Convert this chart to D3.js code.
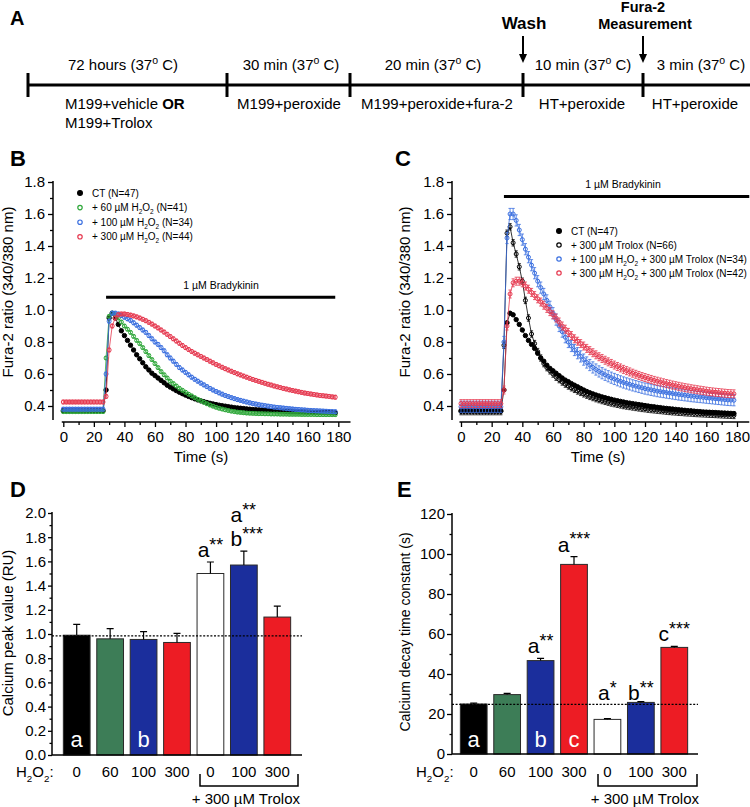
<!DOCTYPE html>
<html><head><meta charset="utf-8">
<script src="https://cdn.jsdelivr.net/npm/d3@7"></script>
<style>body{margin:0;background:#fff}svg{display:block}</style>
</head><body><svg id="chart" width="750" height="807"></svg>
<script>
// ---------------- DATA ----------------
const stepDurations = ["72 hours", "30 min", "20 min", "10 min", "3 min"];
const stepMedia = [["M199+vehicle ", {t:"OR", bold:true}], ["M199+peroxide"], ["M199+peroxide+fura-2"], ["HT+peroxide"], ["HT+peroxide"]];
const stepMedia2 = ["M199+Trolox", "", "", "", ""];
const events = [["Wash"], ["Fura-2", "Measurement"]];

const time = [0,2,4,6,8,10,12,14,16,18,20,22,24,26,28,30,32,34,36,38,40,42,44,46,48,50,52,54,56,58,60,62,64,66,68,70,72,74,76,78,80,82,84,86,88,90,92,94,96,98,100,102,104,106,108,110,112,114,116,118,120,122,124,126,128,130,132,134,136,138,140,142,144,146,148,150,152,154,156,158,160,162,164,166,168,170,172,174,176,178];
const timeTicks = [0,20,40,60,80,100,120,140,160,180];
const ratioTicks = [0.4,0.6,0.8,1.0,1.2,1.4,1.6,1.8];

// Panel B series
const ctB = [0.37,0.37,0.37,0.37,0.37,0.37,0.37,0.37,0.37,0.37,0.37,0.37,0.37,0.37,0.50,0.95,0.98,0.95,0.91,0.87,0.84,0.81,0.78,0.75,0.72,0.695,0.67,0.645,0.625,0.605,0.59,0.575,0.56,0.545,0.53,0.518,0.507,0.496,0.486,0.477,0.468,0.46,0.452,0.445,0.438,0.432,0.427,0.422,0.417,0.413,0.409,0.405,0.402,0.399,0.396,0.393,0.39,0.388,0.386,0.384,0.382,0.38,0.378,0.377,0.376,0.375,0.374,0.373,0.372,0.371,0.37,0.369,0.368,0.367,0.366,0.366,0.365,0.364,0.364,0.363,0.362,0.362,0.361,0.361,0.36,0.36,0.359,0.359,0.358,0.358];
const h60B = [0.365,0.365,0.365,0.365,0.365,0.365,0.365,0.365,0.365,0.365,0.365,0.365,0.365,0.365,0.70,0.96,0.98,0.97,0.95,0.925,0.90,0.88,0.86,0.835,0.81,0.79,0.765,0.74,0.715,0.69,0.665,0.64,0.615,0.595,0.575,0.555,0.54,0.525,0.51,0.498,0.486,0.474,0.463,0.452,0.442,0.432,0.423,0.414,0.406,0.399,0.392,0.386,0.381,0.376,0.372,0.368,0.365,0.362,0.36,0.358,0.356,0.355,0.354,0.353,0.352,0.352,0.351,0.351,0.35,0.35,0.35,0.349,0.349,0.349,0.348,0.348,0.348,0.348,0.347,0.347,0.347,0.347,0.347,0.346,0.346,0.346,0.346,0.346,0.346,0.346];
const h100B = [0.38,0.38,0.38,0.38,0.38,0.38,0.38,0.38,0.38,0.38,0.38,0.38,0.38,0.38,0.60,0.93,0.98,0.98,0.975,0.965,0.955,0.945,0.935,0.92,0.905,0.89,0.875,0.86,0.84,0.82,0.80,0.785,0.765,0.745,0.72,0.70,0.68,0.66,0.64,0.625,0.61,0.595,0.58,0.567,0.555,0.543,0.532,0.521,0.51,0.5,0.491,0.482,0.474,0.466,0.459,0.452,0.446,0.44,0.435,0.43,0.425,0.42,0.416,0.412,0.408,0.405,0.402,0.399,0.396,0.393,0.391,0.389,0.387,0.385,0.383,0.381,0.379,0.378,0.376,0.375,0.373,0.372,0.371,0.37,0.369,0.368,0.367,0.366,0.365,0.364];
const h300B = [0.425,0.425,0.425,0.425,0.425,0.425,0.425,0.425,0.425,0.425,0.425,0.425,0.425,0.425,0.46,0.75,0.9,0.95,0.97,0.975,0.975,0.972,0.968,0.963,0.957,0.95,0.942,0.933,0.923,0.912,0.9,0.888,0.875,0.862,0.848,0.834,0.82,0.806,0.792,0.778,0.765,0.753,0.741,0.73,0.72,0.71,0.7,0.69,0.68,0.67,0.66,0.651,0.642,0.633,0.625,0.617,0.609,0.601,0.594,0.587,0.58,0.573,0.566,0.56,0.554,0.548,0.542,0.536,0.531,0.525,0.52,0.515,0.51,0.506,0.501,0.497,0.493,0.489,0.485,0.481,0.478,0.475,0.472,0.469,0.466,0.464,0.462,0.46,0.457,0.455];
const semB = [0.006, 0.01, 0.012, 0.012];

// Panel C series
const ctC = [0.37,0.37,0.37,0.37,0.37,0.37,0.37,0.37,0.37,0.37,0.37,0.37,0.37,0.37,0.5,0.92,0.98,0.97,0.94,0.91,0.875,0.84,0.81,0.785,0.76,0.73,0.70,0.68,0.655,0.635,0.62,0.605,0.59,0.575,0.562,0.552,0.54,0.53,0.52,0.51,0.5,0.491,0.483,0.476,0.469,0.463,0.457,0.452,0.447,0.442,0.437,0.433,0.429,0.425,0.421,0.418,0.415,0.412,0.409,0.406,0.403,0.4,0.397,0.395,0.392,0.39,0.387,0.385,0.383,0.381,0.379,0.377,0.375,0.373,0.371,0.37,0.368,0.366,0.365,0.363,0.362,0.361,0.36,0.359,0.358,0.357,0.356,0.355,0.354,0.353];
const troloxC = [0.365,0.365,0.365,0.365,0.365,0.365,0.365,0.365,0.365,0.365,0.365,0.365,0.365,0.365,0.78,1.48,1.52,1.42,1.35,1.27,1.18,1.06,0.95,0.85,0.79,0.74,0.7,0.665,0.64,0.62,0.6,0.58,0.565,0.55,0.537,0.525,0.514,0.504,0.494,0.485,0.476,0.468,0.46,0.453,0.446,0.44,0.434,0.429,0.424,0.419,0.415,0.411,0.407,0.403,0.4,0.397,0.394,0.391,0.388,0.385,0.383,0.38,0.378,0.376,0.374,0.372,0.37,0.368,0.366,0.364,0.363,0.361,0.36,0.358,0.357,0.356,0.354,0.353,0.352,0.351,0.35,0.349,0.348,0.347,0.346,0.345,0.344,0.343,0.342,0.341];
const h100TC = [0.395,0.395,0.395,0.395,0.395,0.395,0.395,0.395,0.395,0.395,0.395,0.395,0.395,0.395,0.8,1.45,1.6,1.6,1.56,1.5,1.44,1.38,1.33,1.28,1.23,1.18,1.14,1.1,1.06,1.02,0.98,0.94,0.9,0.865,0.83,0.8,0.775,0.75,0.73,0.71,0.69,0.672,0.656,0.641,0.628,0.616,0.605,0.595,0.586,0.577,0.569,0.561,0.554,0.547,0.541,0.535,0.529,0.524,0.519,0.514,0.509,0.505,0.501,0.497,0.493,0.49,0.487,0.484,0.481,0.478,0.475,0.472,0.47,0.467,0.465,0.462,0.46,0.458,0.456,0.454,0.452,0.45,0.448,0.446,0.444,0.442,0.44,0.438,0.437,0.436];
const h300TC = [0.415,0.415,0.415,0.415,0.415,0.415,0.415,0.415,0.415,0.415,0.415,0.415,0.415,0.415,0.5,0.9,1.1,1.17,1.18,1.18,1.17,1.15,1.13,1.11,1.09,1.07,1.05,1.03,1.01,0.99,0.97,0.95,0.925,0.9,0.88,0.86,0.84,0.82,0.805,0.79,0.775,0.76,0.746,0.733,0.72,0.708,0.697,0.686,0.676,0.666,0.656,0.647,0.638,0.629,0.621,0.613,0.605,0.598,0.591,0.584,0.578,0.572,0.566,0.56,0.555,0.55,0.545,0.54,0.536,0.531,0.527,0.523,0.519,0.515,0.512,0.508,0.505,0.502,0.499,0.496,0.493,0.49,0.488,0.486,0.484,0.482,0.48,0.478,0.477,0.476];
const semC = [0.006, 0.02, 0.035, 0.025];

// Bar panels
const h2o2Labels = ["0","60","100","300","0","100","300"];
const peakValues = [0.99, 0.96, 0.955, 0.93, 1.50, 1.57, 1.14];
const peakErrors = [0.09, 0.085, 0.065, 0.075, 0.095, 0.115, 0.09];
const peakRef = 0.985;
const peakTicks = [0,0.2,0.4,0.6,0.8,1.0,1.2,1.4,1.6,1.8,2.0];
const decayValues = [25.0, 29.7, 46.7, 94.8, 17.3, 25.8, 53.3];
const decayErrors = [0.4, 0.6, 1.1, 3.9, 0.4, 0.4, 0.5];
const decayRef = 24.8;
const decayTicks = [0,20,40,60,80,100,120];
const barFills = ["#000000","#3d7d57","#1b2e9c","#ed1c24","#ffffff","#1b2e9c","#ed1c24"];
const peakInside = ["a","","b","","","",""];
const decayInside = ["a","","b","c","","",""];
const peakMarks = [null,null,null,null,[["a","**"]],[["a","**"],["b","***"]],null];
const decayMarks = [null,null,[["a","**"]],[["a","***"]],[["a","*"]],[["b","**"]],[["c","***"]]];

// ---------------- DRAW ----------------
const F = '"Liberation Sans", Arial, Helvetica, sans-serif';
const svg = d3.select("#chart");

function rich(parent, x, y, parts, o = {}) {
  const fs = o.size || 15;
  const t = parent.append("text").attr("x", x).attr("y", y)
    .attr("font-family", F).attr("font-size", fs)
    .attr("fill", o.fill || "#000").attr("text-anchor", o.anchor || "start");
  if (o.weight) t.attr("font-weight", o.weight);
  if (o.rotate) t.attr("transform", `rotate(-90 ${x} ${y})`);
  let cur = 0;
  parts.forEach(p => {
    if (typeof p === "string") p = {t: p};
    let target = 0, size = null;
    if (p.sub) { target = fs * 0.3; size = fs * 0.65; }
    if (p.sup) { target = -fs * (o.supShift || 0.38); size = fs * (o.supSize || 0.7); }
    const ts = t.append("tspan").text(p.t).attr("dy", target - cur);
    cur = target;
    if (size) ts.attr("font-size", size);
    if (p.bold) ts.attr("font-weight", "bold");
  });
  return t;
}
function panelLabel(x, y, s, size) {
  svg.append("text").attr("x", x).attr("y", y).attr("font-family", F)
    .attr("font-size", size || 22).attr("font-weight", "bold").text(s);
}
function styleAxis(g, fs) {
  g.attr("font-family", F).attr("font-size", fs);
  g.selectAll(".domain").remove();
  g.selectAll("line").attr("stroke", "#000").attr("stroke-width", 1.3);
  g.selectAll("text").attr("fill", "#000");
}
function line(x1, y1, x2, y2, w, dash) {
  const l = svg.append("line").attr("x1", x1).attr("y1", y1).attr("x2", x2).attr("y2", y2)
    .attr("stroke", "#000").attr("stroke-width", w || 1.5);
  if (dash) l.attr("stroke-dasharray", dash);
  return l;
}

// ---- Panel A ----
panelLabel(10, 25, "A", 20);
const tl = {y: 85, bounds: [28, 227, 350, 523, 643], end: 750,
  upper: [123, 291, 433, 583, 701], lower: [65, 289, 437, 582, 695]};
line(tl.bounds[0], tl.y, tl.end, tl.y, 3);
tl.bounds.forEach(b => line(b, tl.y - 12, b, tl.y + 12, 3));
stepDurations.forEach((d, i) => {
  rich(svg, tl.upper[i], 70, [d + " (37", {t: "o", sup: true}, " C)"], {anchor: "middle"});
  rich(svg, tl.lower[i], 109, stepMedia[i], {anchor: i === 0 ? "start" : "middle"});
  if (stepMedia2[i]) rich(svg, tl.lower[i], 128, [stepMedia2[i]], {anchor: "start"});
});
[[523, events[0]], [643, events[1]]].forEach(([x, lab]) => {
  if (lab.length === 1) {
    svg.append("text").attr("x", x + 1).attr("y", 29).attr("text-anchor", "middle")
      .attr("font-family", F).attr("font-size", 17).attr("font-weight", "bold").text(lab[0]);
  } else {
    svg.append("text").attr("x", x).attr("y", 12).attr("text-anchor", "middle")
      .attr("font-family", F).attr("font-size", 14.5).attr("font-weight", "bold").text(lab[0]);
    svg.append("text").attr("x", x + 2).attr("y", 29).attr("text-anchor", "middle")
      .attr("font-family", F).attr("font-size", 14.5).attr("font-weight", "bold").text(lab[1]);
  }
  line(x, 36, x, 56, 2);
  svg.append("path").attr("d", `M${x - 4},54 L${x + 4},54 L${x},63 Z`).attr("fill", "#000");
});

// ---- Trace panels ----
const yT = d3.scaleLinear().domain([0.3, 1.8]).range([422, 182]);
function tracePanel(cfg) {
  const x = cfg.x;
  const g = svg.append("g");
  line(cfg.axisX, yT(1.8) - 1, cfg.axisX, 420, 1.5);
  line(x(-1), 422, x(188), 422, 1.5);
  const ya = g.append("g").attr("transform", `translate(${cfg.axisX},0)`)
    .call(d3.axisLeft(yT).tickValues(ratioTicks).tickSize(5).tickPadding(3).tickFormat(d3.format(".1f")));
  styleAxis(ya, 15);
  const yam = g.append("g").attr("transform", `translate(${cfg.axisX},0)`)
    .call(d3.axisLeft(yT).tickValues(d3.range(0.5, 1.8, 0.2)).tickSize(3).tickFormat(""));
  styleAxis(yam, 15);
  const xa = g.append("g").attr("transform", "translate(0,422)")
    .call(d3.axisBottom(x).tickValues(timeTicks).tickSize(5).tickPadding(4));
  styleAxis(xa, 15);
  const xam = g.append("g").attr("transform", "translate(0,422)")
    .call(d3.axisBottom(x).tickValues(d3.range(10, 180, 20)).tickSize(3).tickFormat(""));
  styleAxis(xam, 15);
  rich(svg, cfg.ylabX, 292, ["Fura-2 ratio (340/380 nm)"], {anchor: "middle", rotate: true});
  rich(svg, cfg.tlabX, 462, ["Time (s)"], {anchor: "middle"});
  line(x(28), yT(cfg.brady.v), x(cfg.brady.end), yT(cfg.brady.v), 3);
  rich(svg, cfg.brady.lx, yT(cfg.brady.v) - 8, ["1 µM Bradykinin"], {anchor: "middle", size: 10.5});
  cfg.series.forEach((s, si) => {
    const pts = time.map((t, i) => [t, s.values[i]]).filter(d => d[1] != null);
    const sg = g.append("g");
    sg.append("path").attr("d", d3.line().x(d => x(d[0])).y(d => yT(d[1]))(pts))
      .attr("fill", "none").attr("stroke", s.color).attr("stroke-width", 0.8);
    const e = cfg.sem[si];
    pts.forEach(d => {
      const cx = x(d[0]), y1 = yT(d[1] - e), y2 = yT(d[1] + e);
      sg.append("path").attr("d", `M${cx},${y1}V${y2}M${cx - 1.6},${y1}h3.2M${cx - 1.6},${y2}h3.2`)
        .attr("stroke", s.color).attr("stroke-width", 0.8).attr("fill", "none");
    });
    sg.selectAll("circle").data(pts).join("circle")
      .attr("cx", d => x(d[0])).attr("cy", d => yT(d[1])).attr("r", s.filled ? 2.2 : 2)
      .attr("fill", s.filled ? s.color : "none").attr("stroke", s.color).attr("stroke-width", 1);
  });
  cfg.series.forEach((s, i) => {
    const ly = cfg.legend.y + i * cfg.legend.dy;
    svg.append("circle").attr("cx", cfg.legend.x).attr("cy", ly).attr("r", s.filled ? 2.4 : 2.2)
      .attr("fill", s.filled ? s.color : "none").attr("stroke", s.color).attr("stroke-width", 1.2);
    rich(svg, cfg.legend.x + 12, ly + 3.6, s.label, {size: 10});
  });
}
const H2O2 = ["H", {t: "2", sub: true}, "O", {t: "2", sub: true}];
panelLabel(10, 166, "B");
tracePanel({
  x: d3.scaleLinear().domain([0, 180]).range([63.3, 338.3]), axisX: 53, ylabX: 13, tlabX: 201,
  brady: {v: 1.08, end: 178, lx: 221},
  legend: {x: 80, y: 193, dy: 14.6},
  sem: semB,
  series: [
    {values: ctB, color: "#000", filled: true, label: ["CT (N=47)"]},
    {values: h60B, color: "#2fa83a", label: ["+ 60 µM ", ...H2O2, " (N=41)"]},
    {values: h100B, color: "#3a6fe0", label: ["+ 100 µM ", ...H2O2, " (N=34)"]},
    {values: h300B, color: "#e6384f", label: ["+ 300 µM ", ...H2O2, " (N=44)"]}
  ]
});
panelLabel(395, 166, "C");
tracePanel({
  x: d3.scaleLinear().domain([0, 180]).range([461, 737]), axisX: 452, ylabX: 410, tlabX: 598,
  brady: {v: 1.71, end: 188, lx: 623},
  legend: {x: 559, y: 231, dy: 14},
  sem: semC,
  series: [
    {values: ctC, color: "#000", filled: true, label: ["CT (N=47)"]},
    {values: troloxC, color: "#000", label: ["+ 300 µM Trolox (N=66)"]},
    {values: h100TC, color: "#3a6fe0", label: ["+ 100 µM ", ...H2O2, " + 300 µM Trolox (N=34)"]},
    {values: h300TC, color: "#e6384f", label: ["+ 300 µM ", ...H2O2, " + 300 µM Trolox (N=42)"]}
  ]
});

// ---- Bar panels ----
function barPanel(cfg) {
  const y = cfg.y, xb = d3.scaleBand().domain(d3.range(7)).range(cfg.range).paddingInner(0.2).paddingOuter(0.1);
  const g = svg.append("g");
  const y0 = y(0);
  const ya = g.append("g").attr("transform", `translate(${cfg.axisX},0)`)
    .call(d3.axisLeft(y).tickValues(cfg.ticks).tickSize(cfg.tickSize).tickPadding(2).tickFormat(cfg.fmt));
  styleAxis(ya, 15);
  const yam = g.append("g").attr("transform", `translate(${cfg.axisX},0)`)
    .call(d3.axisLeft(y).tickValues(cfg.minor).tickSize(2.5).tickFormat(""));
  styleAxis(yam, 15);
  cfg.values.forEach((v, i) => {
    const bx = xb(i), bw = xb.bandwidth(), cx = bx + bw / 2;
    g.append("rect").attr("x", bx).attr("y", y(v)).attr("width", bw).attr("height", y0 - y(v))
      .attr("fill", barFills[i]).attr("stroke", "#2a2a2a").attr("stroke-width", 1);
    const et = y(v + cfg.errors[i]);
    g.append("path").attr("d", `M${cx},${y(v)}V${et}M${cx - 3.5},${et}h7`)
      .attr("stroke", "#000").attr("stroke-width", 1.2).attr("fill", "none");
    if (cfg.inside[i]) rich(svg, cx, 747, [cfg.inside[i]], {anchor: "middle", size: 22, fill: "#fff"});
    rich(svg, cx, 777, [h2o2Labels[i]], {anchor: "middle", size: 15});
  });
  line(cfg.axisX, y(cfg.ref), cfg.xEnd, y(cfg.ref), 1.3, "2,1.6");
  cfg.marks.forEach((m, i) => {
    if (!m) return;
    const bx = xb(i), cx = bx + xb.bandwidth() / 2;
    let base = (cfg.markBase && cfg.markBase[i]) || (y(cfg.values[i] + cfg.errors[i]) - 5);
    const stacked = m.length > 1;
    for (let k = m.length - 1; k >= 0; k--) {
      rich(svg, stacked ? bx : cx, base, [m[k][0], {t: m[k][1], sup: true}],
        {anchor: stacked ? "start" : "middle", size: 21, supSize: 0.85, supShift: 0.3});
      base -= 24;
    }
  });
  line(cfg.axisX, y(cfg.ticks[cfg.ticks.length - 1]) - 1, cfg.axisX, y0, 1.5);
  line(cfg.axisX, y0, cfg.xEnd, y0, 1.5);
  rich(svg, cfg.axisX - 36, 777, H2O2.concat([":"]), {anchor: "start", size: 15});
  const bl = cfg.bracket[0], br = cfg.bracket[1];
  svg.append("path").attr("d", `M${bl},774V786H${br}V774`).attr("fill", "none").attr("stroke", "#000").attr("stroke-width", 1.5);
  rich(svg, br + 2, 804, ["+ 300 µM Trolox"], {anchor: "end", size: 15});
  rich(svg, cfg.ylabX, cfg.ylabY, [cfg.ylabel], {anchor: "middle", rotate: true, size: cfg.ylabSize || 15});
}
panelLabel(10, 497, "D");
barPanel({
  y: d3.scaleLinear().domain([0, 2]).range([755, 513]), range: [60, 294], axisX: 52, xEnd: 302,
  ticks: peakTicks, minor: d3.range(0.1, 2.0, 0.2), tickSize: 4, fmt: d3.format(".1f"),
  values: peakValues, errors: peakErrors, ref: peakRef, inside: peakInside, marks: peakMarks,
  bracket: [200, 298], ylabX: 13, ylabY: 633, ylabel: "Calcium peak value (RU)"
});
panelLabel(397, 497, "E");
barPanel({
  y: d3.scaleLinear().domain([0, 120]).range([754, 514]), range: [457, 691], axisX: 452, xEnd: 698,
  ticks: decayTicks, minor: d3.range(10, 120, 20), tickSize: 5, fmt: d3.format("d"),
  values: decayValues, errors: decayErrors, ref: decayRef, inside: decayInside, marks: decayMarks,
  markBase: [null, null, null, null, 700, 700, null],
  bracket: [598, 697], ylabX: 410, ylabY: 632, ylabel: "Calcium decay time constant (s)", ylabSize: 14
});
</script></body></html>
